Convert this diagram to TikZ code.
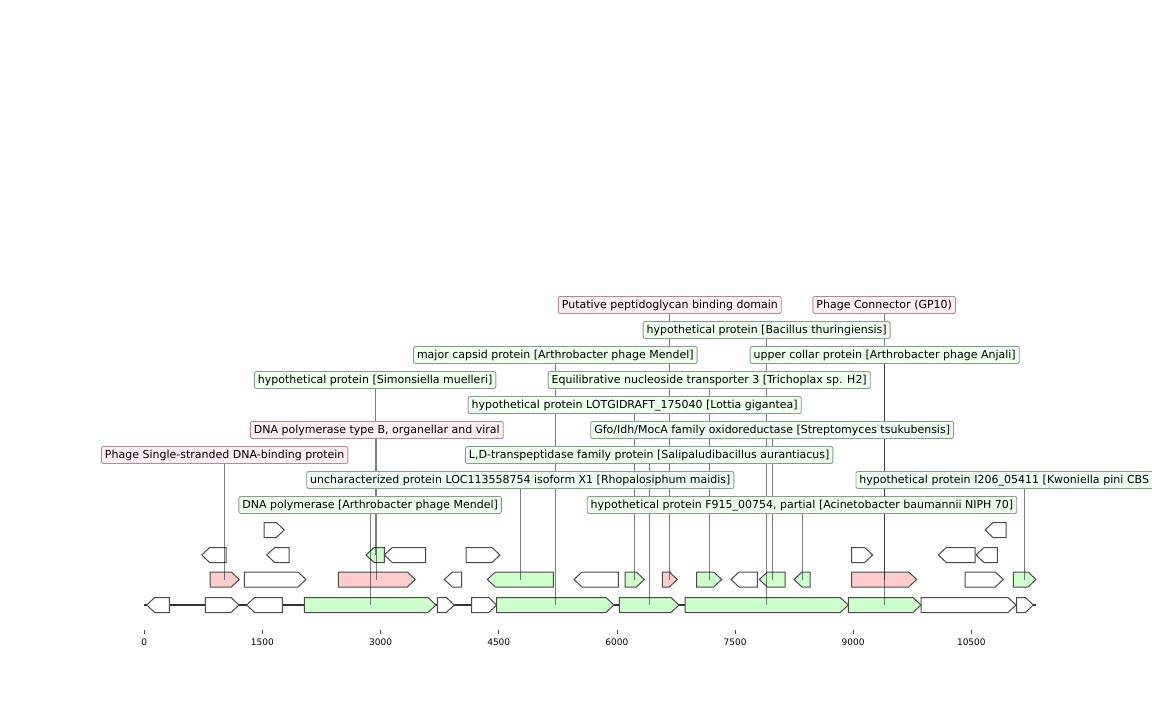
\documentclass[tikz,border=0pt]{standalone}
\usepackage{fontspec}
\setmainfont{DejaVu Sans}
\usepackage{xcolor}
\usepackage{tikz}
\usetikzlibrary{positioning,calc}

\definecolor{genegreen}{HTML}{CCFFCC}
\definecolor{genepink}{HTML}{FFCCCC}
\definecolor{geneedge}{HTML}{4A4A4A}
\definecolor{labgreen}{HTML}{EEFFEE}
\definecolor{labpink}{HTML}{FFEEEE}
\definecolor{labgreenedge}{HTML}{8A9C8A}
\definecolor{labpinkedge}{HTML}{A89090}

\pgfdeclarelayer{features}
\pgfdeclarelayer{leaders}
\pgfsetlayers{features,leaders,main}

\tikzset{
  gene/.style={draw=geneedge, line width=1bp},
  baseline/.style={draw=black!80, line width=1.8bp},
  leader/.style={draw=black, opacity=0.5, line width=0.8bp},
  lab/.style={rounded corners=2bp, line width=0.9bp, inner xsep=3.5bp, inner ysep=3bp,
    text height=8.5bp, text depth=2.5bp, font=\fontsize{11bp}{13bp}\selectfont},
  greenlab/.style={lab, draw=labgreenedge, fill=labgreen},
  pinklab/.style={lab, draw=labpinkedge, fill=labpink},
  tick/.style={draw=black!70, line width=0.8bp},
  ticklab/.style={font=\fontsize{9bp}{11bp}\selectfont, inner sep=0pt}
}

% forward / reverse gene arrows: name, fill, start, end, row
\newcommand{\fwdgene}[5]{%
  \pgfmathsetmacro{\hx}{max(#3,#4-8)}
  \filldraw[gene,fill=#2] (#3,#5-7.5) -- (\hx,#5-7.5) -- (#4,#5) -- (\hx,#5+7.5) -- (#3,#5+7.5) -- cycle;
  \coordinate (#1) at ({(#3+#4)/2},#5);
}
\newcommand{\revgene}[5]{%
  \pgfmathsetmacro{\hx}{min(#4,#3+8)}
  \filldraw[gene,fill=#2] (#4,#5-7.5) -- (\hx,#5-7.5) -- (#3,#5) -- (\hx,#5+7.5) -- (#4,#5+7.5) -- cycle;
  \coordinate (#1) at ({(#3+#4)/2},#5);
}

\begin{document}
\begin{tikzpicture}[x=1bp, y=-1bp]

\useasboundingbox (0,0) rectangle (1152,720);

\begin{pgfonlayer}{features}
% Sequence line
\draw[baseline] (144.3,605) -- (1036,605);

% Row 0
\revgene{ga}{white}{146.7}{169.3}{605}
\fwdgene{gb}{white}{205.3}{239}{605}
\revgene{gc}{white}{246.7}{282.3}{605}
\fwdgene{fdnapol}{genegreen}{304.3}{436}{605}
\fwdgene{ge}{white}{437.3}{454.3}{605}
\fwdgene{gf}{white}{471.7}{496.7}{605}
\fwdgene{fcapsid}{genegreen}{496.7}{614}{605}
\fwdgene{fldtp}{genegreen}{619.3}{679}{605}
\fwdgene{fbacil}{genegreen}{685}{848.3}{605}
\fwdgene{fcollar}{genegreen}{848.3}{921}{605}
\fwdgene{gk}{white}{921}{1016}{605}
\fwdgene{gl}{white}{1016.7}{1033.3}{605}

% Row 1
\fwdgene{fssb}{genepink}{210}{239.3}{579.5}
\fwdgene{hb}{white}{244.3}{306}{579.5}
\fwdgene{fpolb}{genepink}{338.3}{415.3}{579.5}
\revgene{hd}{white}{444.3}{461.7}{579.5}
\revgene{funchar}{genegreen}{487.3}{553.3}{579.5}
\revgene{hf}{white}{574}{618.3}{579.5}
\fwdgene{flotg}{genegreen}{625}{644.3}{579.5}
\fwdgene{fpept}{genepink}{662.3}{677.3}{579.5}
\fwdgene{fent}{genegreen}{696.7}{721.7}{579.5}
\revgene{hj}{white}{731}{757.3}{579.5}
\revgene{fgfo}{genegreen}{759.3}{785}{579.5}
\revgene{ff915}{genegreen}{794}{810}{579.5}
\fwdgene{fconn}{genepink}{851.7}{916.7}{579.5}
\fwdgene{hn}{white}{965}{1003.3}{579.5}
\fwdgene{fkwon}{genegreen}{1013.3}{1036}{579.5}

% Row 2
\revgene{ia}{white}{201.7}{226}{555}
\revgene{ib}{white}{266.7}{289}{555}
\revgene{fsimon}{genegreen}{366}{384.3}{555}
\revgene{id}{white}{384.3}{425.7}{555}
\fwdgene{ie}{white}{466}{500}{555}
\fwdgene{if}{white}{851.7}{872.7}{555}
\revgene{ig}{white}{938.3}{975}{555}
\revgene{ih}{white}{976}{997.3}{555}

% Row 3
\fwdgene{ja}{white}{264}{284.3}{530}
\revgene{jb}{white}{985}{1006}{530}
\end{pgfonlayer}

% Labels
\node[pinklab] (lpept) at (fpept |- 0,305) {Putative peptidoglycan binding domain};
\node[pinklab] (lconn) at (fconn |- 0,305) {Phage Connector (GP10)};
\node[greenlab] (lbacil) at (fbacil |- 0,330) {hypothetical protein [Bacillus thuringiensis]};
\node[greenlab] (lcapsid) at (fcapsid |- 0,355) {major capsid protein [Arthrobacter phage Mendel]};
\node[greenlab] (lcollar) at (fcollar |- 0,355) {upper collar protein [Arthrobacter phage Anjali]};
\node[greenlab] (lsimon) at (fsimon |- 0,380) {hypothetical protein [Simonsiella muelleri]};
\node[greenlab] (lent) at (fent |- 0,380) {Equilibrative nucleoside transporter 3 [Trichoplax sp. H2]};
\node[greenlab] (llotg) at (flotg |- 0,405) {hypothetical protein LOTGIDRAFT\_175040 [Lottia gigantea]};
\node[pinklab] (lpolb) at (fpolb |- 0,430) {DNA polymerase type B, organellar and viral};
\node[greenlab] (lgfo) at (fgfo |- 0,430) {Gfo/Idh/MocA family oxidoreductase [Streptomyces tsukubensis]};
\node[pinklab] (lssb) at (fssb |- 0,455) {Phage Single-stranded DNA-binding protein};
\node[greenlab] (lldtp) at (fldtp |- 0,455) {L,D-transpeptidase family protein [Salipaludibacillus aurantiacus]};
\node[greenlab] (lunchar) at (funchar |- 0,480) {uncharacterized protein LOC113558754 isoform X1 [Rhopalosiphum maidis]};
\node[greenlab, anchor=west, text width=333bp, align=left] (lkwon) at (855.5,480) {hypothetical protein I206\_05411 [Kwoniella pini CBS};
\node[greenlab] (ldnapol) at (fdnapol |- 0,505) {DNA polymerase [Arthrobacter phage Mendel]};
\node[greenlab] (lf915) at (ff915 |- 0,505) {hypothetical protein F915\_00754, partial [Acinetobacter baumannii NIPH 70]};

% Leader lines
\begin{pgfonlayer}{leaders}
\foreach \f in {pept,conn,bacil,capsid,collar,simon,ent,lotg,polb,gfo,ssb,ldtp,unchar,kwon,dnapol,f915}
  \draw[leader] (l\f.south -| f\f) -- (f\f);
\end{pgfonlayer}

% Axis ticks
\foreach \t in {0,1500,...,10500} {
  \draw[tick] ({144.3+\t*0.078767},630) -- ++(0,3.5);
  \node[ticklab] (t\t) at ({144.3+\t*0.078767},642) {\t};
}

\end{tikzpicture}
\end{document}
